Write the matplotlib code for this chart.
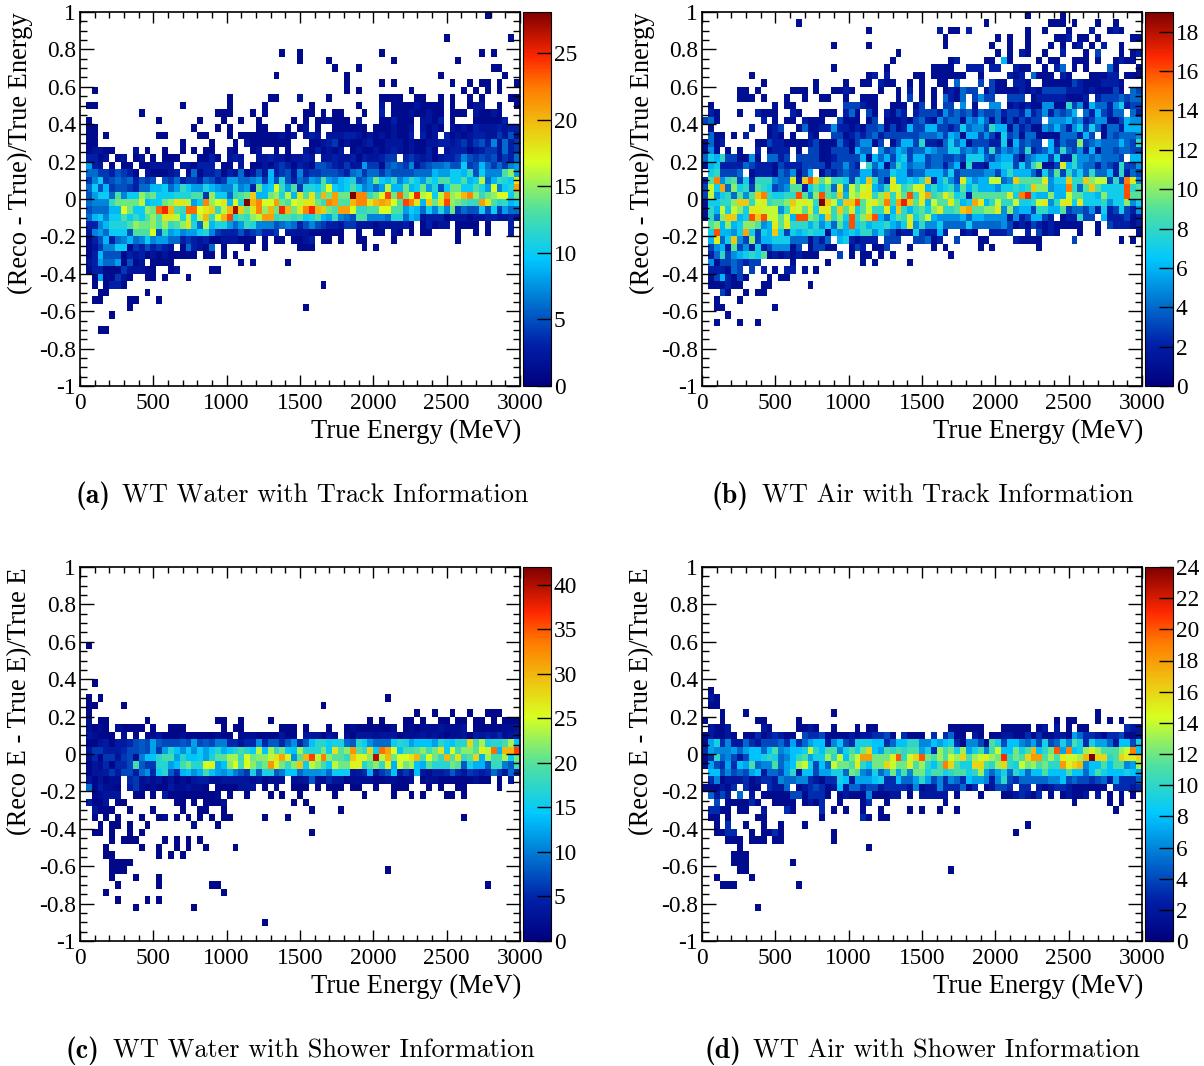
import numpy as np
import matplotlib
matplotlib.use('Agg')
import matplotlib.pyplot as plt
from matplotlib.colors import LinearSegmentedColormap
from matplotlib.ticker import FixedLocator, FixedFormatter, MultipleLocator

# Bin counts, one string per y bin from the top (y=1) down.
# One character per energy bin, spaces only group every 5 bins, '.' = empty.
# Characters: 0-9, a-z = 10-35, A-G = 36-42
A_ROWS = [
"..... ..... ..... ..... ..... ..... ..... ..... ..... ..... ..... ..... ..... ....1",
"",
"",
"..... ..... ..... ..... ..... ..... ..... ..... ..... ..... ..... ..... ..1.. ..... ...1.",
"",
"..... ..... ..... ..... ..... ..... ....1 ..1.. ..... ..... .1... ..... ..... ...1. 1....",
"..... ..... ..... ..... ..... ..... ..... ..1.. ..1.. ..... ...1. ..... ....1",
"..... ..... ..... ..... ..... ..... ..... ..... ...1. ..1.. ..... ..... ..... ..... 11...",
"..... ..... ..... ..... ..... ..... ...1. ..... ..... 1.... ..... ..... .1... ..... ..1..",
"..... ..... ..... ..... ..... ..... ..... ..... ..... 1.... .1.1. ..... ...1. .1.11 .1..1",
"..1.. ..... ..... ..... ..... ..... ..... ..... ..... 1.1.. ..... .1... ..... 1.1.1 .1...",
"..... ..... ..... ..... ..... 1.... ..11. ..2.. ..1.. ..... .1111 ..11. .1.1. .1.1. ...11",
".11.. ..... ..... ..1.. ..... 1.... .1... ....1 ..... ..1.. .2.11 11211 11.1. .122. .1..1",
"..... ..... 1.... ..... ...11 1...1 .1... ...11 .1.11 ...1. .3.11 12112 11.11 1.211 21...",
".1... ..... ...1. ..... 1...1 ..1.. 1.... .1.1. 11211 1.2.. .1131 11.22 13.1. ..111 113..",
".11.. ..... ..... ....1 ...1. 1.... 11... 1.12. 1..11 1111. 11121 12.21 21.21 21322 23233",
".11.1 ..... ...11 ..... 11... 1.111 11112 12.23 2.222 33212 12121 13.31 2.312 12332 24252",
".11.. ..... ..... ..1.. ..1.. .1.21 11111 1...1 12341 21123 11222 12112 23323 42453 72634",
".1221 1...2 .1..1 ..1.1 .11.. 21..1 2..1. 1..21 31212 .1211 21232 12113 1.233 31234 42634",
".3312 .12.1 2.1.1 11... 1131. 232.. 22322 12232 .2232 23132 2344. 34323 12334 75454 52436",
".832. 1.11. 11222 2.221 333.1 1.2.1 12134 31321 55432 42284 41565 47245 66755 a4596 46478",
".6644 35431 .2111 23.16 13341 32612 52934 52734 45554 36746 64655 55666 988aa 9c5a7 77df8",
".47a4 56563 545.5 46344 36534 88667 8495b 53658 7d879 ab568 ea9c7 9ca8c addaa d9ag6 9cbai",
".6a59 45543 6699a 68ca8 8b987 7b783 e9ahc 8d4bb adha9 ada78 68g99 e9ae8 b5aee aadb8 h7abl",
".58aa 6d7aa fdeaa abbbd d4faa 6cdej 99efb g9idi ckele esmmc ehoen ehpgh agmfg kmfce fhhae",
".6777 ceeee g9aae fiig8 amfhi 9hbsk mhhle dhgii ecmld dkmmi klkhd omi9j eiofe dccli dbc9a",
".5666 99hea afenp kdcnn hijcg krjei mfkep keimp kjedl lhccd dhhdd 8a96a 7b7e4 655a5 a4866",
".69a7 aadac adfdi igbga gkchk obdcf gllcd dcdab d98c7 65dd7 776bb 69823 33122 21223 32232",
".3379 bbbdf eefdf cdfib 6g9bb 868cb 77756 76357 54332 44222 12222 31.13 122.1 111.1 ...3.",
".2786 aaa5d ddh5c 89788 ab743 33534 5334. 22221 11111 ..1.. 11.21 .1.11 ....1 ..1.1 ...3.",
".1359 36796 7a788 66343 23112 22111 .1.11 .1123 .11.1 ..11. ...1. ..... ....1",
".1247 7aa14 35343 2.163 216.1 ...1. .1... ..111 ..... ...1. 1....",
".1395 55132 31212 11111 .11.1 .1...",
".2386 68151 2.111 1.... ..... ..1.1 ..... 1....",
".1331 11422 211.. 12... ..11.",
"..181 1421. .11.1 ...1.",
"..1.1 331.. ..... ..... ..... ..... ..... ..... .1...",
"...11 ..... .1...",
"..11. ...11 ...1.",
"..... ...1. ..... ..... ..... ..... ..... ...1.",
"..... 1....",
"",
"...11",
]

B_ROWS = [
"..... ..... ..... ..... ..... ..... ..... ..... ..... ..... ..... 1.... .1...",
"..... ..... ..... .1... ..... ..... ..... ..... ..... ...1. ..... ....1 11.1. ..1.. 1....",
"..... ..... ..... ..... ..... ...1. ..... ..... 2.11. 2.... ..... 1..1. ..1.. .2..1 21...",
"..... ..... ..... ..... ..... ..... ..... ..... .1... ..... 1.1.. 1.... 112.1 1.1.. ...11",
"..... ..... ..... ..... ..1.. ...1. ..... ..... .1... ....1 ..1.. 1...1 .1.12 .1.2. .1...",
"..... ..... ..... ..... ..... ..... ...1. ..... ..... ..... 1.1.2 1..1. .2... 1.3.. .1.12",
"..... ..... ..... ..... ..... ..... ..1.. ..... ..12. ...11 .61.. ..1.1 1..11 1.1.. 1211.",
"..... ..... ..... ..... ..1.. ..... .1... ....1 111.. 222.2 2..21 1..1. 24.1. 1...4 1...1",
"..... ...1. ..... ..... ..... ...12 .2... .11.1 11111 ..1.. ..212 .4111 .21.. .1112 2.111",
"..... ..... 1.... ....1 ....1 ..11. 211.. 1.1.. 11.4. ..3.3 11.22 1..11 11132 11122 21...",
"..... .11.1 ..... 111.1 ..112 1.... 1..1. 2.1.1 .1214 33.13 11112 12133 33222 12111 31.43",
"..... .111. 1...1 ..1.. 11..1 ..111 ...1. 3.1.1 .4214 .3533 ..333 .1222 22111 2.233 34344",
".1... ..... ..1.1 1.... ....3 33211 ..111 .13.1 .33.5 .1..5 5.121 21155 11835 16442 57233",
".21.. .1..2 111.. 21... 111.2 41.31 .2132 .2333 25343 42433 42332 52352 4346. 42632 44.42",
"341.. ..... 2.1.1 1.211 1..31 11.13 .1112 13421 53441 54641 41313 233.5 55645 23551 13655",
".1... ...2. .123. .1411 22522 12133 41312 63366 33237 45538 66142 31154 64257 37414 42666",
".411. 1.2.. .121. 1..21 ..331 23234 23333 33444 53651 66353 17341 44111 14442 63.14 34445",
"1412. ....1 13221 11123 11142 13551 3.136 63822 14746 13332 27163 433.6 2433a 34544 46438",
"151.1 .1..2 .1222 .1.33 11333 1644. 53465 34465 44774 54638 35453 82346 38435 26144 34433",
"47683 31151 .4423 .3333 11233 33616 46367 36634 43343 77743 56631 45663 72285 54544 43.66",
"16722 22432 22132 22333 31335 32.84 61486 45534 42461 82216 67737 48a11 3c685 44243 28335",
".7833 34.12 22143 5136. 13234 33663 44766 34466 64734 44455 36866 64274 93857 48446 28243",
"29f58 93728 88544 c2dgd 9b887 386d8 42c66 768d2 6853c 7566b b45d9 999c5 77d88 dabb3 83fc5",
"3b7e4 a7839 87345 99279 794c5 b9bc6 58cb8 9bc68 67859 68666 57787 8daa5 66f84 9d977 77g89",
"3b578 4959d f8778 8g95a g98d6 bacc8 ad8c9 g8ce8 9ca78 29999 99c7f h766a 66b99 776a7 77g99",
"17788 add8b c899a dbcb8 jdb7d dg9bc af8eh d9c6b 99c96 7ec68 b88b7 78bc5 8cc7c 77785 77a57",
"186b7 ba7cc bbb58 cb9c7 cc8d9 c79b8 8c6d8 6897a c889d e99aa c5a56 63886 69344 35272 37325",
"184ad d67gd gbb9b 6gga9 6d8a7 g8adg 64798 c79b6 55556 46655 55252 36632 .1228 33.62 22312",
".9a6a 67aa9 56c9c 88868 57496 g7867 78657 c5855 74444 74444 45312 13212 11111 ..1.3 22212",
".7g66 57e73 76d73 76787 71656 76885 74312 27322 62..1 21..2 223.. 2.312 1...1 ..1.. ....1",
".6c47 d53a3 66777 44413 24.67 21222 .333. .3341 2..3. ..11. ...21 111.. ...3. ..... .1.1.",
".3562 93527 23555 13.13 311.. 132.1 13... 1...1 .1... ..1.1 ..... ..1..",
".2483 56787 91212 12111 ...3. 1.11. 1.1.. ..... ..1..",
".5133 43233 ..... 1.... .1... ..1.1 ..... 1....",
".2221 43.3. 2.1.2 2.1.1",
".1362 131.. .1.11",
".1112 11... 11... ...1.",
"...31 ..1.1 1....",
"..1.. .1...",
"..11. ..... ..1..",
"....1",
"..1.. .1..1",
]

C_ROWS = [""] * 10 + [
".1",
"", "", "", "",
"..1",
"",
".1.1. ..... ..... ..... ..... ..... ..... ..... ..... ..... ..1..",
".11.. ..1.. ..... ..... ..... ..... ..... ..... .1...",
".1... ..... ..... ..... ..... ..... ..... ..... ..... ..... ..... ..1.. 1..1. .1..1 11...",
".2.11 ..... .1... ..... ...11 ..1.. ..1.. ..... ..... ....1 .1... 11.1. .11.1 1.11. 1.111",
".2121 .2111 1.1.. 111.. ....1 .11.. ....1 11.1. ..1.. 12111 1112. 12122 23222 3.111 11223",
".3211 1.2.1 .1231 11211 11121 1.222 11113 11.33 3132. 21333 23331 22232 32122 31434 35234",
".1134 14457 87c87 7787c 787aa 55355 b5885 8b58e hhfgg 98hfb 999fh gceee chfeh hsjng hhjne",
".3664 44577 87c6c hebfb fcfhd fhjhf oenil fenhh hlfrk mwkis fyvpe jjkmj lrfpj mmkqo yduuA",
".2516 63672 aeehj jchee fcgkk nnipl mmorv qbkuA oxmkk itqqm Eoulp prujp liukr iksdn jjnfl",
".1325 1557j 866hh cejlh hpqce mpjpm jlwql imtfo mjfol lqqhk miqdp lnedk hhhlk 8gdd8 iia8j",
".1334 64774 9b5fh 85deb djecb da86g 8gg8a ee9bb bc9ff f345d 368e4 64e32 44585 36545 96394",
".3131 22.56 23231 31213 44223 33332 31222 .2238 22533 12222 11221 12.12 21111 11211 .1.3.",
".9142 21.46 21211 42232 21.11 11333 .1.2. .111. 1.111 .11.. 1..11 1...1 .1..1 1.... .1...",
"..123 33..1 1.1.4 11111 1112. 1..1. ..1.1 ..1.. ...1. ...1. ...1. .1.1. ..11. 1....",
".4113 .11.. ..... .11.1 .1112 ..... ..... .1.1.",
"..311 1..1. ..1.. ..1.. 11..1 ..... ..... ....1 ....1",
"..1.1 .1... 1..12 .1.1. 1.1.1 1.... .1... 1.... ..... ..... ..... ..... ..... 1....",
"...1. 11.1. .1... ....2 ...1.",
"..11. 1..1. 1.... ..... ..... ..... ..... ....1",
"..... 1.111 ....1 .1.1. 1....",
"....1 ..... 1..1. .1.1. .1... .1...",
"....1 1.... ...1. 1.1..",
"..... 1111.",
"..... 111.. ..... ..... ..... ..... ..... ..... ..... ..... ..1..",
"..... 1...1 ...1.",
"..... .1... ...1. ..... ..11. ..... ..... ..... ..... ..... ..... ..... ..... ....1",
"....1 ..... ..... ..... ....1",
"..... .1... .1.1.",
"..... ....1 ..... ....1",
"",
"..... ..... ..... ..... ..... ..... .1...",
]

D_ROWS = [""] * 16 + [
".1",
".21",
".11",
"...1. ..1.. ..... ..... ..1.. ..... ..... ..... ..... ..... ..... ..... ..... ..1..",
"1..1. ....1 1.... .1... ..... ..... ..... ..... ..... ..... ..... ..... 1.11. ..1.1 .1...",
".2112 ..... 21... .1121 ..1.. .1.11 ..... ..... ..111 111.. .1111 1.12. 2.1.1 1.... ..322",
"12112 1.113 12321 1.433 41111 21223 341.3 111.3 .3511 .21.1 12211 31311 22175 33213 34112",
"17936 22532 44453 73578 82684 39998 83588 aa668 78931 6641b 94886 57494 596b9 39775 28849",
"37666 75788 58b67 889ea 8bb69 b9cg8 7baba bb793 dbc9d 79b6b e88c9 bh8ac k7j89 dfdbb bdej8",
"13a56 42488 9a956 8ab79 9dae8 ceiic ccfka egkcb dbedg bdefd clacb giibd bfeed hogga bgffg",
"17437 387b5 66b57 8de94 85ecc bfa8c cgecc fbda8 bjgb9 9ggba dga9e cdbca aifgh 688b8 bb67d",
".8846 45478 25547 a2884 77995 cb659 57c7b 6cc9b b9abb 9ad75 795a8 588b8 88b88 58b98 88987",
".3612 22312 33265 56632 13398 27778 93385 57a74 63653 87762 6a435 55556 68454 43452 73335",
"11121 3.311 .3225 .1234 31282 55344 23333 26122 63335 13.12 443.3 3.212 33211 1111. 33323",
".5242 .5.2. 11111 44133 31.12 11161 1122. 1.222 22.1. ..1.. .1123 213.1 .1211 2.2.1 .1.1.",
"..4.1 11131 ..111 1.121 3..1. ..13. .1... ..... .1... ..... ..... ..... ...1. ....1 .1...",
".3311 .11.. 2...3 1.... 3.1.1 ..1.. 1.... 1.1.. 1..1. ..... ..... ..... ..... ..... 1....",
".11.1 ....1 1.... ..... 1.... ..31. 11",
"..1.3 ..1.. 1..1. ..1.. ..... ..... ..... ..... ..... ..... ..... 1....",
"..113 3..1. 1131. ..... ..1.. ..... ..... ..... ..... ..... ...1.",
"....1 11.11 1.11. ..... ..1..",
"..... .1... ..... ..... ..... ...1.",
"..... 111..",
"..... 111.. ..... 1....",
"..... .11.. ..... ..... ..... ..... ..... ..... ..1..",
"..1.. ...1.",
"...11 1.... ..... .1...",
"", "",
"..... ....1",
]

Y_LABELS = ['(Reco - True)/True Energy', '(Reco - True)/True Energy',
            '(Reco E - True E)/True E', '(Reco E - True E)/True E']
Z_MAX = [28.1, 19.0, 42.0, 24.0]
Z_TICKS = [[0, 5, 10, 15, 20, 25], list(range(0, 20, 2)),
           list(range(0, 45, 5)), list(range(0, 26, 2))]
TAGS = ['(a)', '(b)', '(c)', '(d)']
CAPTIONS = ['WT Water with Track Information', 'WT Air with Track Information',
            'WT Water with Shower Information', 'WT Air with Shower Information']
Y_TICK_VALUES = [-1, -0.8, -0.6, -0.4, -0.2, 0, 0.2, 0.4, 0.6, 0.8, 1]
Y_TICK_LABELS = ['-1', '-0.8', '-0.6', '-0.4', '-0.2', '0', '0.2', '0.4', '0.6', '0.8', '1']
X_TICK_VALUES = [0, 500, 1000, 1500, 2000, 2500, 3000]

W, H = 1204, 1066
NX, NY = 75, 50
CODE = '0123456789abcdefghijklmnopqrstuvwxyzABCDEFG'
SERIF = 'Liberation Serif'

# pixel layout of the four panels: left of axes, top of axes
LEFTS = [80, 702, 80, 702]
TOPS = [12, 12, 567, 567]
TAG_X = [76, 712, 66, 704]
CAP_X = [122, 762, 113, 753]
CAP_Y = [496, 496, 1051, 1051]

root_rainbow = LinearSegmentedColormap.from_list('root_rainbow', [
    (0.00, '#00007f'), (0.11, '#0020a8'), (0.22, '#0070d0'), (0.34, '#00c8ff'),
    (0.47, '#50e0a0'), (0.60, '#d8ff20'), (0.70, '#f0c010'), (0.80, '#ff7a00'),
    (0.88, '#ff2800'), (1.00, '#7f0000')])


def decode(rows):
    grid = np.zeros((NY, NX))
    for k, row in enumerate(rows):
        row = row.replace(' ', '')
        for i, ch in enumerate(row):
            if ch != '.':
                grid[NY - 1 - k, i] = CODE.index(ch)
    return grid


def box(left, top, width, height):
    return [left / W, 1 - (top + height) / H, width / W, height / H]


fig = plt.figure(figsize=(W / 100, H / 100), dpi=100)
x_edges = np.linspace(0, 3000, NX + 1)
y_edges = np.linspace(-1, 1, NY + 1)

for n, rows in enumerate([A_ROWS, B_ROWS, C_ROWS, D_ROWS]):
    ax = fig.add_axes(box(LEFTS[n], TOPS[n], 440, 374))
    grid = np.ma.masked_equal(decode(rows), 0)
    mesh = ax.pcolormesh(x_edges, y_edges, grid, cmap=root_rainbow, vmin=0, vmax=Z_MAX[n])
    ax.set_xlim(0, 3000)
    ax.set_ylim(-1, 1)

    ax.xaxis.set_major_locator(FixedLocator(X_TICK_VALUES))
    ax.xaxis.set_minor_locator(MultipleLocator(100))
    ax.yaxis.set_major_locator(FixedLocator(Y_TICK_VALUES))
    ax.yaxis.set_major_formatter(FixedFormatter(Y_TICK_LABELS))
    ax.yaxis.set_minor_locator(MultipleLocator(0.05))
    ax.tick_params(axis='x', which='major', direction='in', top=True, length=8, width=1, pad=5, labelsize=16.8)
    ax.tick_params(axis='x', which='minor', direction='in', top=True, length=4, width=1)
    ax.tick_params(axis='y', which='major', direction='in', right=True, length=10, width=1, pad=3, labelsize=16.8)
    ax.tick_params(axis='y', which='minor', direction='in', right=True, length=5, width=1)
    for lab in ax.get_xticklabels() + ax.get_yticklabels():
        lab.set_fontfamily(SERIF)
    for s in ax.spines.values():
        s.set_linewidth(1.2)

    cax = fig.add_axes(box(LEFTS[n] + 443, TOPS[n], 28, 374))
    cb = fig.colorbar(mesh, cax=cax)
    cb.set_ticks(Z_TICKS[n])
    cb.ax.tick_params(direction='in', length=10, width=1, pad=2, labelsize=16.8)
    for lab in cb.ax.get_yticklabels():
        lab.set_fontfamily(SERIF)
    cb.outline.set_linewidth(0.8)

    fig.text((LEFTS[n] + 441) / W, 1 - (TOPS[n] + 419) / H, 'True Energy (MeV)', ha='right', va='center',
             family=SERIF, fontsize=19.1)
    fig.text((LEFTS[n] - 60) / W, 1 - TOPS[n] / H, Y_LABELS[n], rotation=90, ha='center', va='top',
             family=SERIF, fontsize=19.1)
    fig.text(TAG_X[n] / W, 1 - CAP_Y[n] / H, TAGS[n], ha='left', va='center', family='cmb10', fontsize=20)
    fig.text(CAP_X[n] / W, 1 - CAP_Y[n] / H, CAPTIONS[n], ha='left', va='center', family='cmr10', fontsize=18.85)

fig.savefig('out.png', dpi=100)
